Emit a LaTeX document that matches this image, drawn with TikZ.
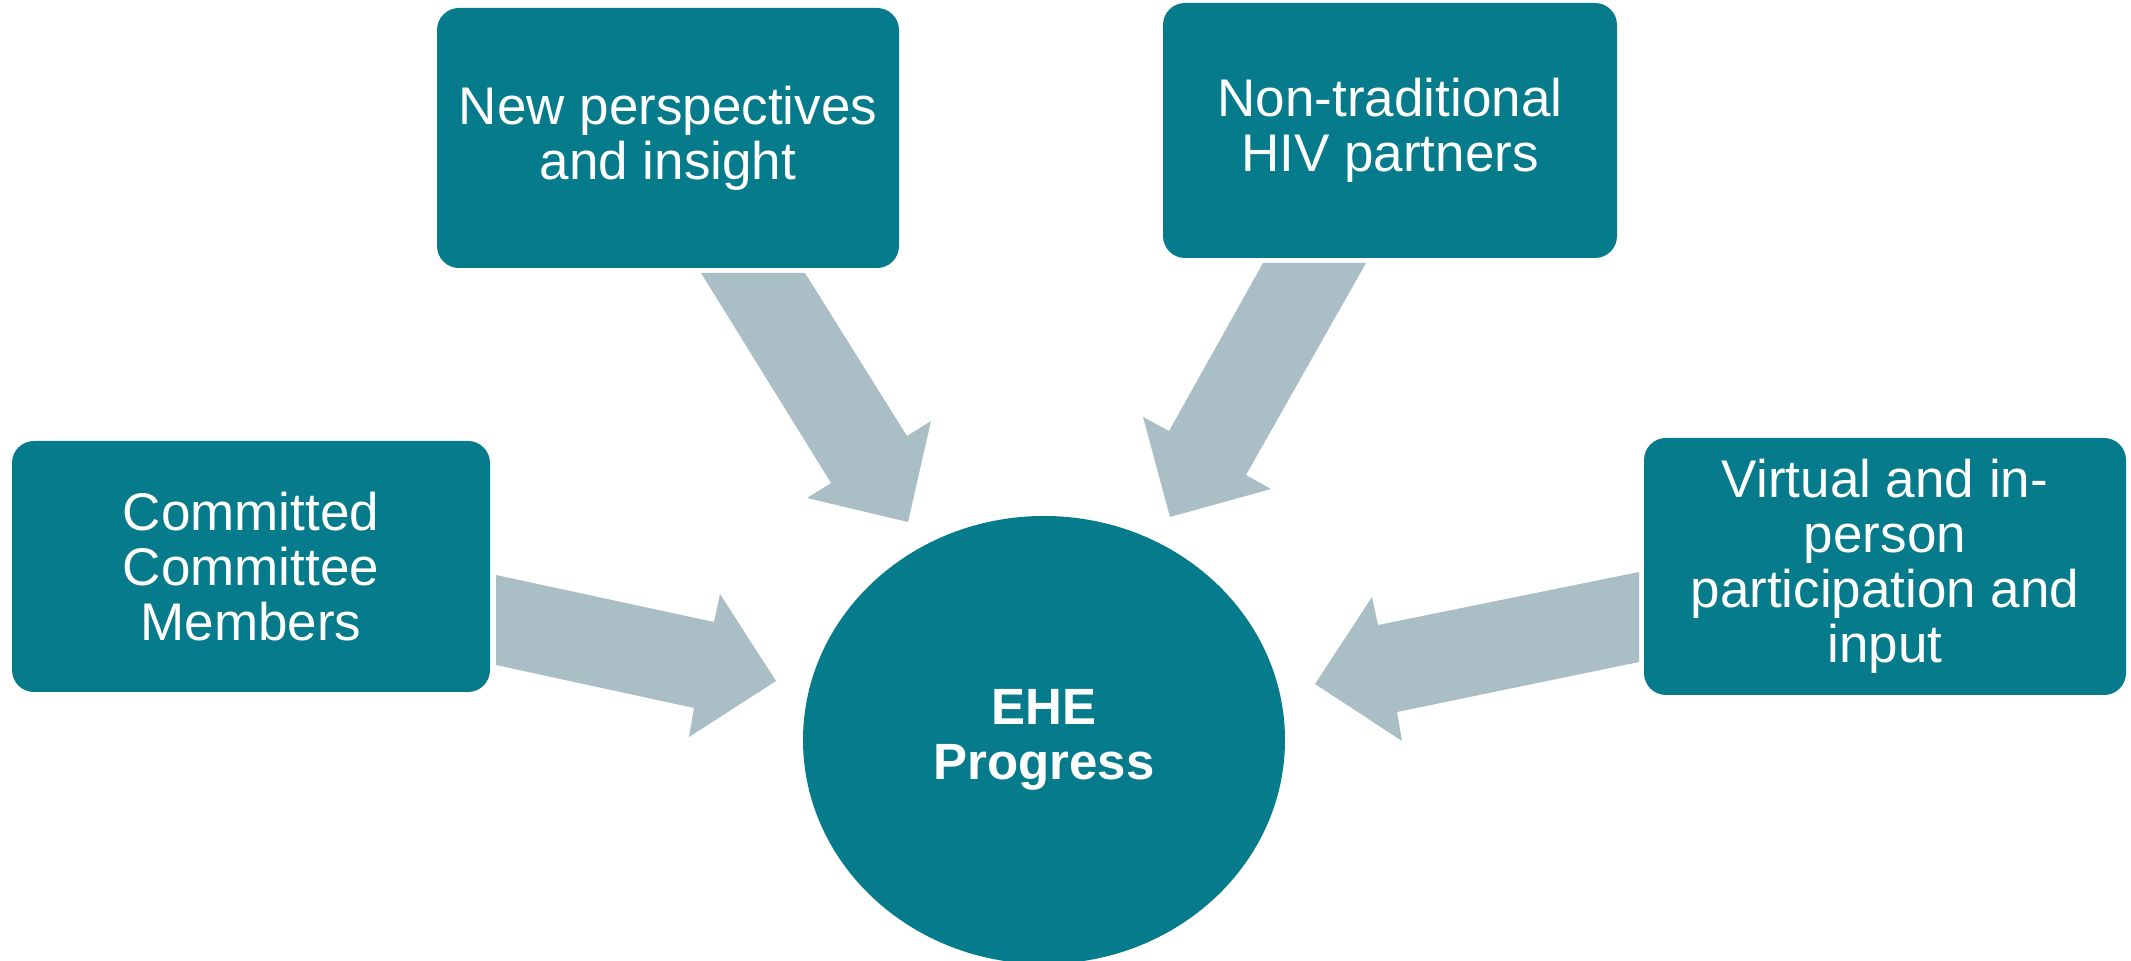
\documentclass[tikz,border=0pt]{standalone}
\usepackage{fontspec}
\setmainfont{Liberation Sans}
\usetikzlibrary{shapes.geometric}
\definecolor{tealbox}{HTML}{057B8B}
\definecolor{arrowgray}{HTML}{AABEC5}
\begin{document}
\begin{tikzpicture}[x=0.5pt,y=-0.5pt,
  box/.style={fill=tealbox, draw=none, rounded corners=11pt, inner sep=0pt,
    text=white, align=center, font=\fontsize{26.5pt}{27.5pt}\selectfont},
  hub/.style={ellipse, fill=tealbox, draw=none, inner sep=0pt,
    text=white, align=center, font=\fontsize{25.5pt}{27.5pt}\selectfont\bfseries},
  blockarrow/.style={fill=arrowgray, draw=none}]
\useasboundingbox (0,0) rectangle (2131,961);

% block arrows
\draw[blockarrow] (701,273) -- (805,273) -- (907,436) -- (931,421) -- (908,522) -- (807,498) -- (831,483) -- cycle;
\draw[blockarrow] (496,575) -- (714,622) -- (720,594) -- (776,681) -- (689,737) -- (694,708) -- (496,665) -- cycle;
\draw[blockarrow] (1263,263) -- (1366,263) -- (1246,475) -- (1271,489) -- (1170,517) -- (1143,417) -- (1169,431) -- cycle;
\draw[blockarrow] (1639,572) -- (1378,625) -- (1372,597) -- (1315,684) -- (1402,741) -- (1397,712) -- (1639,662) -- cycle;

% nodes
\node[box, minimum width=239pt, minimum height=125.5pt] (committed) at (251,566.5) {Committed\\Committee\\Members};
\node[box, minimum width=231pt, minimum height=130pt] (perspectives) at (668,138) {New perspectives\\and insight};
\node[box, minimum width=227pt, minimum height=127.5pt] (partners) at (1390,130.5) {Non-traditional\\HIV partners};
\node[box, minimum width=241pt, minimum height=128.5pt] (virtual) at (1885,566.5) {Virtual and in-\\person\\participation and\\input};
\node[hub, minimum width=241pt, minimum height=224pt] (ehe) at (1044,740) {EHE\\Progress};
\end{tikzpicture}
\end{document}
